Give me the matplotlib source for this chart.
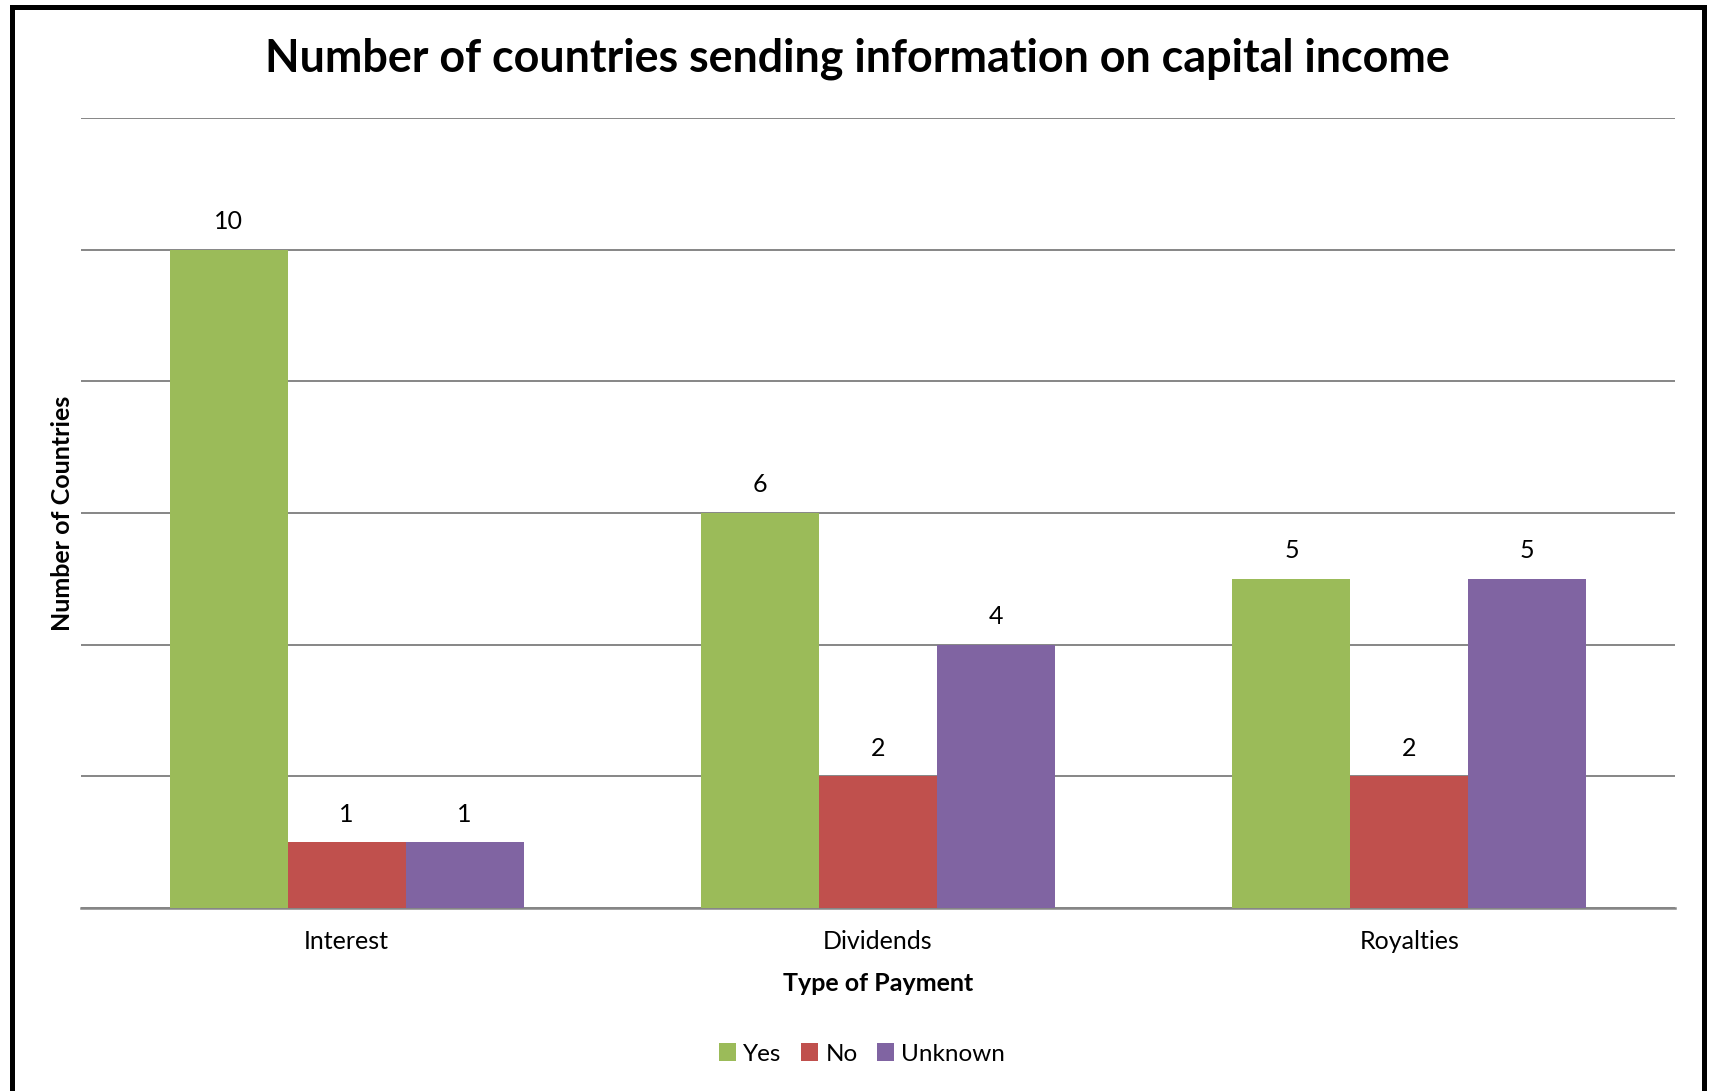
import matplotlib.pyplot as plt
import numpy as np
from matplotlib.patches import Rectangle

# payment types and country counts per answer
payments = ["Interest", "Dividends", "Royalties"]
answers = ["Yes", "No", "Unknown"]
yes_counts = [10, 6, 5]
no_counts = [1, 2, 2]
unknown_counts = [1, 4, 5]
colors = ["#9BBB59", "#C0504D", "#8064A2"]

plt.rcParams["font.family"] = ["Lato", "DejaVu Sans"]

W, H = 1710, 1091
fig = plt.figure(figsize=(W / 100, H / 100), dpi=100)
ax = fig.add_axes([81 / W, 1 - 908 / H, (1675 - 81) / W, (908 - 118) / H])

x = np.arange(len(payments))
width = 0.222
series = [yes_counts, no_counts, unknown_counts]
for i, (vals, lab, col) in enumerate(zip(series, answers, colors)):
    bars = ax.bar(x + (i - 1) * width, vals, width, color=col, label=lab, zorder=3)
    ax.bar_label(bars, padding=12, fontsize=18)

ax.set_xlim(-0.5, 2.5)
ax.set_ylim(0, 12)
ax.set_yticks(np.arange(0, 13, 2))
ax.yaxis.grid(True, color="#868686", linewidth=1.4, zorder=0)
ax.tick_params(axis="y", left=False, labelleft=False)
ax.tick_params(axis="x", bottom=False, labelsize=18, pad=12)
ax.set_xticks(x, payments)
for s in ["top", "right", "left"]:
    ax.spines[s].set_visible(False)
ax.spines["bottom"].set_color("#868686")
ax.spines["bottom"].set_linewidth(1.8)

ax.set_xlabel("Type of Payment", fontsize=18, fontweight="bold", labelpad=14)
fig.text(62 / W, 1 - 513 / H, "Number of Countries", rotation=90, ha="center",
         va="center", fontsize=18, fontweight="bold")
fig.text(857 / W, 1 - 59 / H,
         "Number of countries sending information on capital income",
         ha="center", va="center", fontsize=32.3, fontweight="bold")

fig.legend(loc="center", bbox_to_anchor=(862 / W, 1 - 1054 / H), ncol=3,
           frameon=False, fontsize=17.5, handlelength=0.7, handleheight=0.7,
           handletextpad=0.3, columnspacing=0.8)

# outer frame
fig.patches.append(Rectangle((11.5 / W, -0.05), (1704 - 11.5) / W, 1.05 - 7 / H,
                             transform=fig.transFigure, fill=False,
                             edgecolor="black", linewidth=3.6))

fig.savefig("out.png", dpi=100)
